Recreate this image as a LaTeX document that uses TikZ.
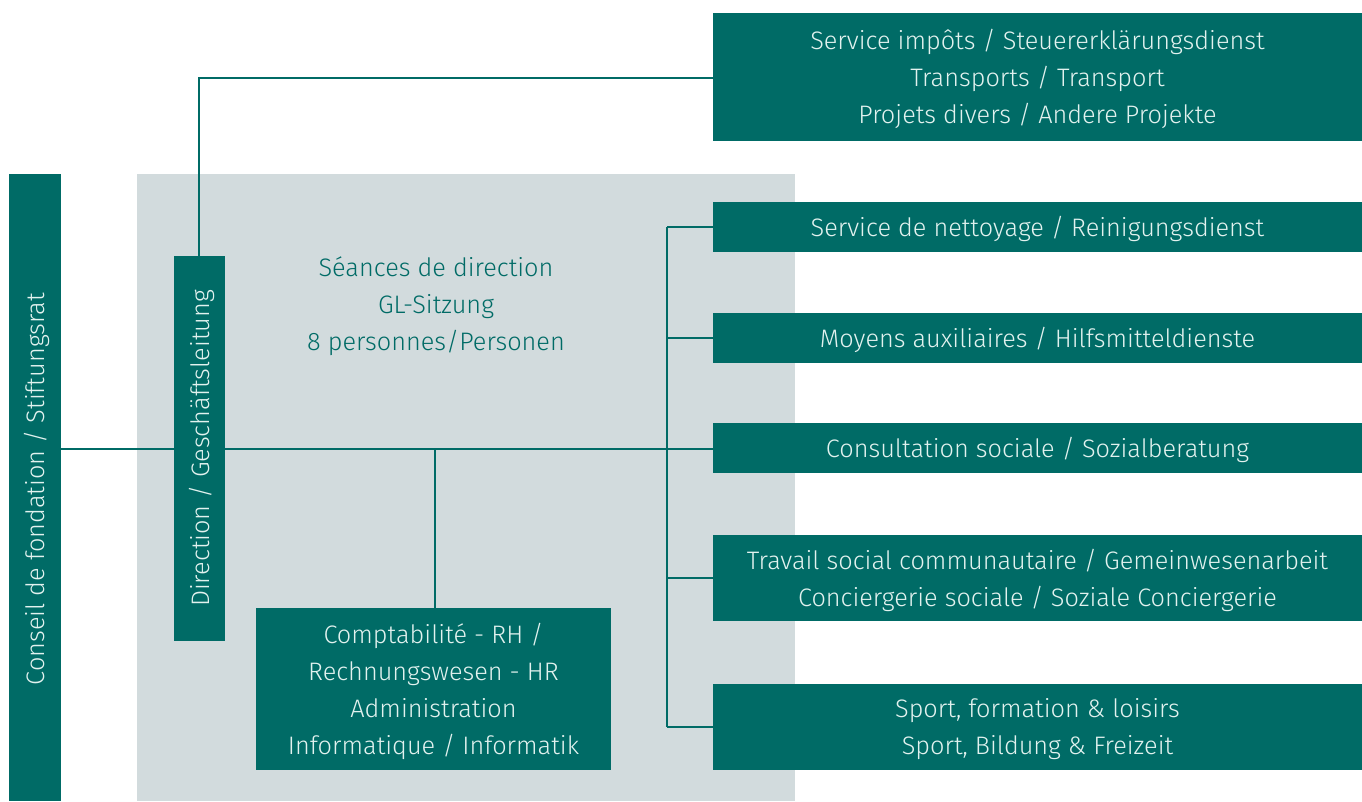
\documentclass[tikz,border=0pt]{standalone}
\usepackage{fontspec}
\setmainfont{Fira Sans Light}
\definecolor{teal}{HTML}{006B66}
\definecolor{graybg}{HTML}{D2DBDD}
\definecolor{mint}{HTML}{E2F2EF}
\begin{document}
\begin{tikzpicture}[x=1pt,y=-1pt,
  box/.style={fill=teal,draw=none,inner sep=0pt,text=mint,align=center,font=\fontsize{25.3}{37}\selectfont},
  lbl/.style={text=mint,align=center,font=\fontsize{25.3}{37}\selectfont},
  conn/.style={draw=teal,line width=2.6pt},
  grp/.style={fill=graybg,draw=none,inner sep=0pt}]
\useasboundingbox (0,0) rectangle (1362,801);
\node[grp,minimum width=658pt,minimum height=627pt] (bg) at (466,487.5) {};
\node[box,minimum width=52pt,minimum height=627pt] (conseil) at (35,487.5) {};
\node[lbl,rotate=90] (conseiltxt) at (37,489) {Conseil de fondation / Stiftungsrat};
\node[box,minimum width=51pt,minimum height=385pt] (dir) at (199.5,448.5) {};
\node[lbl,rotate=90] (dirtxt) at (201.5,448.5) {Direction / Geschäftsleitung};
\node[box,minimum width=649pt,minimum height=128pt] (top) at (1037.5,77) {};
\node[lbl] (toptxt) at (1037.5,78.5) {Service impôts / Steuererklärungsdienst\\Transports / Transport\\Projets divers / Andere Projekte};
\node[box,minimum width=649pt,minimum height=50pt] (nett) at (1037.5,227) {};
\node[lbl] (netttxt) at (1037.5,229) {Service de nettoyage / Reinigungsdienst};
\node[box,minimum width=649pt,minimum height=50pt] (moy) at (1037.5,338) {};
\node[lbl] (moytxt) at (1037.5,340) {Moyens auxiliaires / Hilfsmitteldienste};
\node[box,minimum width=649pt,minimum height=50pt] (cons) at (1037.5,448) {};
\node[lbl] (constxt) at (1037.5,450) {Consultation sociale / Sozialberatung};
\node[box,minimum width=649pt,minimum height=86pt] (trav) at (1037.5,578) {};
\node[lbl] (travtxt) at (1037.5,580) {Travail social communautaire / Gemeinwesenarbeit\\Conciergerie sociale / Soziale Conciergerie};
\node[box,minimum width=649pt,minimum height=86pt] (sport) at (1037.5,727) {};
\node[lbl] (sporttxt) at (1037.5,729) {Sport, formation \& loisirs\\Sport, Bildung \& Freizeit};
\node[box,minimum width=355pt,minimum height=162pt] (compta) at (433.5,689) {};
\node[lbl] (comptatxt) at (433.5,691) {Comptabilité - RH /\\Rechnungswesen - HR\\Administration\\Informatique / Informatik};
\node[lbl,text=teal] (seance) at (436,306) {Séances de direction\\GL-Sitzung\\8 personnes/Personen};
\coordinate (jtop) at (199,78);
\coordinate (jv) at (667,449);
\coordinate (jc) at (435,449);
\draw[conn] (dir.north -| jtop) -- (jtop) -- (jtop -| top.west);
\draw[conn] (conseil.east |- jv) -- (jv -| cons.west);
\draw[conn] (jc) -- (compta.north -| jc);
\draw[conn] (jv |- nett) -- (nett.west);
\draw[conn] (jv |- moy) -- (moy.west);
\draw[conn] (jv |- trav) -- (trav.west);
\draw[conn] (jv |- sport) -- (sport.west);
\draw[conn] (jv |- nett) -- (jv |- sport);
\end{tikzpicture}
\end{document}
